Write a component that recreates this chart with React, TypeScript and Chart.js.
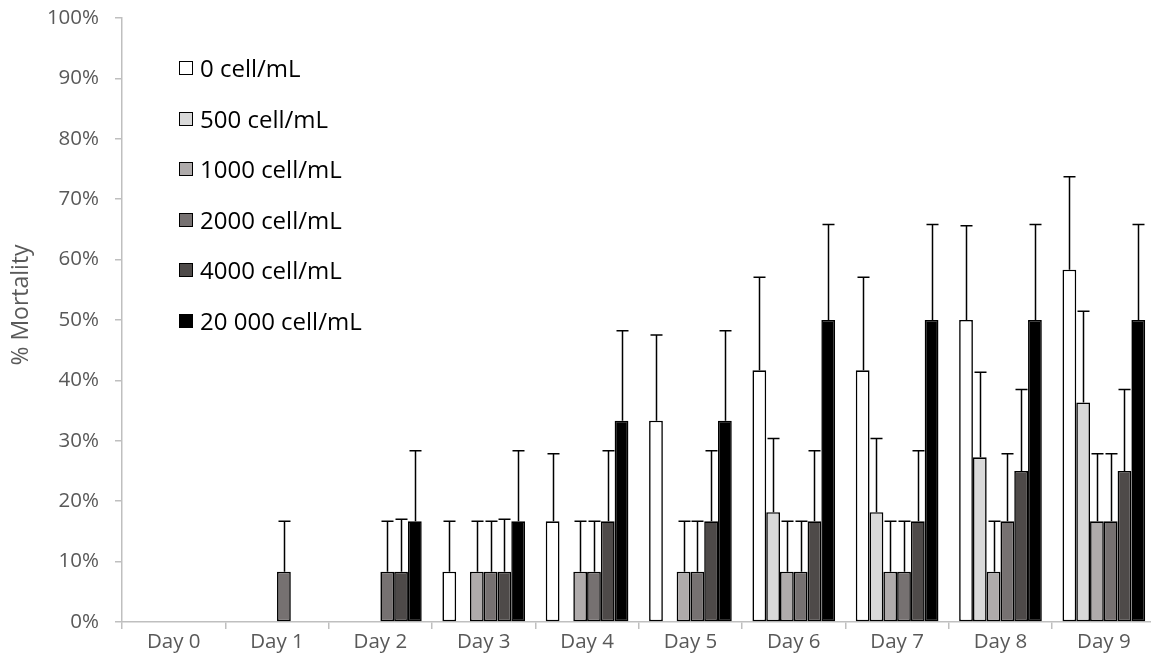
import React, { useEffect, useRef } from "react";
import { Chart, registerables } from "chart.js";

Chart.register(...registerables);

const categories = ["Day 0", "Day 1", "Day 2", "Day 3", "Day 4", "Day 5", "Day 6", "Day 7", "Day 8", "Day 9"];
const seriesLabels = ["0 cell/mL", "500 cell/mL", "1000 cell/mL", "2000 cell/mL", "4000 cell/mL", "20 000 cell/mL"];
const seriesColors = ["#FFFFFF", "#D9D9D9", "#AFABAB", "#767171", "#4E4A49", "#000000"];

const mort0 = [0, 0, 0, 8.33, 16.67, 33.33, 41.67, 41.67, 50, 58.33];
const mort500 = [0, 0, 0, 0, 0, 0, 18.18, 18.18, 27.27, 36.36];
const mort1000 = [0, 0, 0, 8.33, 8.33, 8.33, 8.33, 8.33, 8.33, 16.67];
const mort2000 = [0, 8.33, 8.33, 8.33, 8.33, 8.33, 8.33, 8.33, 16.67, 16.67];
const mort4000 = [0, 0, 8.33, 8.33, 16.67, 16.67, 16.67, 16.67, 25, 25];
const mort20000 = [0, 0, 16.67, 16.67, 33.33, 33.33, 50, 50, 50, 50];

const err0 = [0, 0, 0, 8.33, 11.2, 14.2, 15.4, 15.4, 15.6, 15.4];
const err500 = [0, 0, 0, 0, 0, 0, 12.2, 12.2, 14.1, 15.1];
const err1000 = [0, 0, 0, 8.33, 8.33, 8.33, 8.33, 8.33, 8.33, 11.2];
const err2000 = [0, 8.33, 8.33, 8.33, 8.33, 8.33, 8.33, 8.33, 11.2, 11.2];
const err4000 = [0, 0, 8.7, 8.7, 11.7, 11.7, 11.7, 11.7, 13.5, 13.5];
const err20000 = [0, 0, 11.7, 11.7, 14.9, 14.9, 15.8, 15.8, 15.8, 15.8];

const yTicks = [0, 10, 20, 30, 40, 50, 60, 70, 80, 90, 100];
const yTitle = "% Mortality";

const seriesValues = [mort0, mort500, mort1000, mort2000, mort4000, mort20000];
const seriesErrors = [err0, err500, err1000, err2000, err4000, err20000];

const FONT = "'Open Sans', sans-serif";

const errorBarPlugin = {
  id: "errorBars",
  afterDatasetsDraw(chart: any) {
    const ctx = chart.ctx;
    const yScale = chart.scales.y;
    ctx.save();
    ctx.strokeStyle = "#000000";
    ctx.lineWidth = 1.5;
    chart.data.datasets.forEach((ds: any, di: number) => {
      const meta = chart.getDatasetMeta(di);
      meta.data.forEach((el: any, i: number) => {
        const v = ds.data[i];
        const e = ds.errors[i];
        if (!v || !e) return;
        const yTop = yScale.getPixelForValue(v + e);
        const x = Math.round(el.x) + 0.5;
        ctx.beginPath();
        ctx.moveTo(x, el.y);
        ctx.lineTo(x, yTop);
        ctx.moveTo(x - 6, yTop);
        ctx.lineTo(x + 6, yTop);
        ctx.stroke();
      });
    });
    ctx.restore();
  },
};

const yTitlePlugin = {
  id: "yTitle",
  afterDraw(chart: any) {
    const ctx = chart.ctx;
    ctx.save();
    ctx.translate(21, 305);
    ctx.rotate(-Math.PI / 2);
    ctx.fillStyle = "#595959";
    ctx.font = `23px ${FONT}`;
    ctx.textAlign = "center";
    ctx.textBaseline = "middle";
    ctx.fillText(yTitle, 0, 0);
    ctx.restore();
  },
};

export default function App() {
  const ref = useRef<HTMLCanvasElement>(null);
  useEffect(() => {
    if (!ref.current) return;
    const chart = new Chart(ref.current, {
      type: "bar",
      data: {
        labels: categories,
        datasets: seriesLabels.map((label, i) => ({
          label,
          data: seriesValues[i],
          errors: seriesErrors[i],
          backgroundColor: seriesColors[i],
          borderColor: "#000000",
          borderWidth: 1.6,
          borderSkipped: false,
          categoryPercentage: 0.8,
          barPercentage: 1.0,
        })) as any,
      },
      options: {
        animation: false,
        responsive: false,
        maintainAspectRatio: false,
        layout: { padding: { top: 18, right: 4.5, left: 0, bottom: 0 } },
        plugins: {
          legend: { display: false },
          tooltip: { enabled: false },
        },
        scales: {
          x: {
            offset: true,
            grid: {
              offset: true,
              drawOnChartArea: false,
              drawTicks: true,
              tickLength: 7,
              color: "#BFBFBF",
              lineWidth: 1.5,
            },
            border: { color: "#BFBFBF", width: 1.5 },
            ticks: {
              color: "#595959",
              font: { family: FONT, size: 20.5 },
              padding: 1,
            },
            afterFit(scale: any) {
              scale.height = 44;
            },
          },
          y: {
            min: 0,
            max: 100,
            afterBuildTicks(scale: any) {
              scale.ticks = yTicks.map((v) => ({ value: v }));
            },
            grid: {
              drawOnChartArea: false,
              drawTicks: true,
              tickLength: 7,
              color: "#BFBFBF",
              lineWidth: 1.5,
            },
            border: { color: "#BFBFBF", width: 1.5 },
            ticks: {
              color: "#595959",
              font: { family: FONT, size: 20.5 },
              padding: 16,
              callback: (v: any) => v + "%",
            },
            afterFit(scale: any) {
              scale.width = 122;
              scale.paddingTop = 0;
              scale.paddingBottom = 0;
            },
          },
        },
      },
      plugins: [errorBarPlugin, yTitlePlugin],
    });
    return () => chart.destroy();
  }, []);

  const rowCenters = [68, 119, 169, 220, 270, 321];

  return (
    <div style={{ position: "fixed", left: 0, top: 0, width: 1151, height: 666, overflow: "hidden", background: "#fff" }}>
      <canvas ref={ref} width={1160} height={666} style={{ display: "block", width: 1160, height: 666 }} />
      {seriesLabels.map((label, i) => (
        <div
          key={label}
          style={{
            position: "absolute",
            left: 179,
            top: rowCenters[i] - 17,
            height: 34,
            display: "flex",
            alignItems: "center",
            fontFamily: FONT,
            fontSize: 24,
            lineHeight: "34px",
            color: "#000",
            whiteSpace: "nowrap",
          }}
        >
          <span
            style={{
              display: "inline-block",
              width: 12,
              height: 12,
              border: "1.6px solid #000",
              background: seriesColors[i],
              marginRight: 7,
            }}
          />
          <span>{label}</span>
        </div>
      ))}
    </div>
  );
}
